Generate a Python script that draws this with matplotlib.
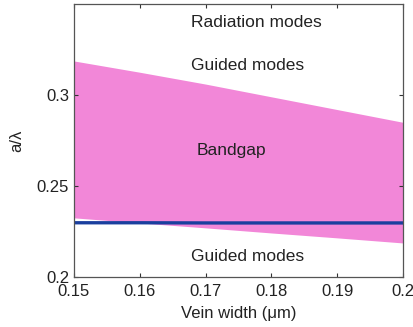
import matplotlib
matplotlib.use("Agg")
import matplotlib.pyplot as plt

plt.rcParams['font.family'] = ['Liberation Sans', 'DejaVu Sans']

# Vein width (um) and band edges (a/lambda)
vein_width = [0.15, 0.16, 0.17, 0.18, 0.19, 0.20]
gap_top = [0.3187, 0.3125, 0.3060, 0.2990, 0.2920, 0.2850]
gap_bottom = [0.2325, 0.2297, 0.2270, 0.2242, 0.2215, 0.2187]
light_line = [0.2298, 0.2298, 0.2297, 0.2297, 0.2297, 0.2297]

x_ticks = [0.15, 0.16, 0.17, 0.18, 0.19, 0.2]
x_ticklabels = ["0.15", "0.16", "0.17", "0.18", "0.19", "0.2"]
y_ticks = [0.2, 0.25, 0.3]
y_ticklabels = ["0.2", "0.25", "0.3"]

fig = plt.figure(figsize=(4.14, 3.27), dpi=100)
ax = fig.add_axes([0.1787, 0.1529, 0.7947, 0.8349])

ax.fill_between(vein_width, gap_bottom, gap_top, color="#f287d8", lw=0)
ax.plot(vein_width, light_line, color="#1a3f9e", lw=2.4)

ax.set_xlim(0.15, 0.2)
ax.set_ylim(0.2, 0.35)
ax.set_xticks(x_ticks)
ax.set_xticklabels(x_ticklabels)
ax.set_yticks(y_ticks)
ax.set_yticklabels(y_ticklabels)
ax.tick_params(direction="in", length=3, width=0.8, labelsize=12,
               top=True, right=True, colors="#333333", labelcolor="#222222")
ax.tick_params(axis="x", pad=5)
for s in ax.spines.values():
    s.set_color("#555555")
    s.set_linewidth(0.9)

ax.text(0.1777, 0.340, "Radiation modes", ha="center", va="center", fontsize=12.5, color="#222222")
ax.text(0.1764, 0.3164, "Guided modes", ha="center", va="center", fontsize=12.5, color="#222222")
ax.text(0.1740, 0.2697, "Bandgap", ha="center", va="center", fontsize=12.5, color="#222222")
ax.text(0.1764, 0.2110, "Guided modes", ha="center", va="center", fontsize=12.5, color="#222222")

ax.set_xlabel("Vein width (\u03bcm)", fontsize=12, color="#222222", labelpad=5)
ax.set_ylabel("a/\u03bb", fontsize=12, color="#222222", labelpad=9)

fig.savefig("out.png", dpi=100)
